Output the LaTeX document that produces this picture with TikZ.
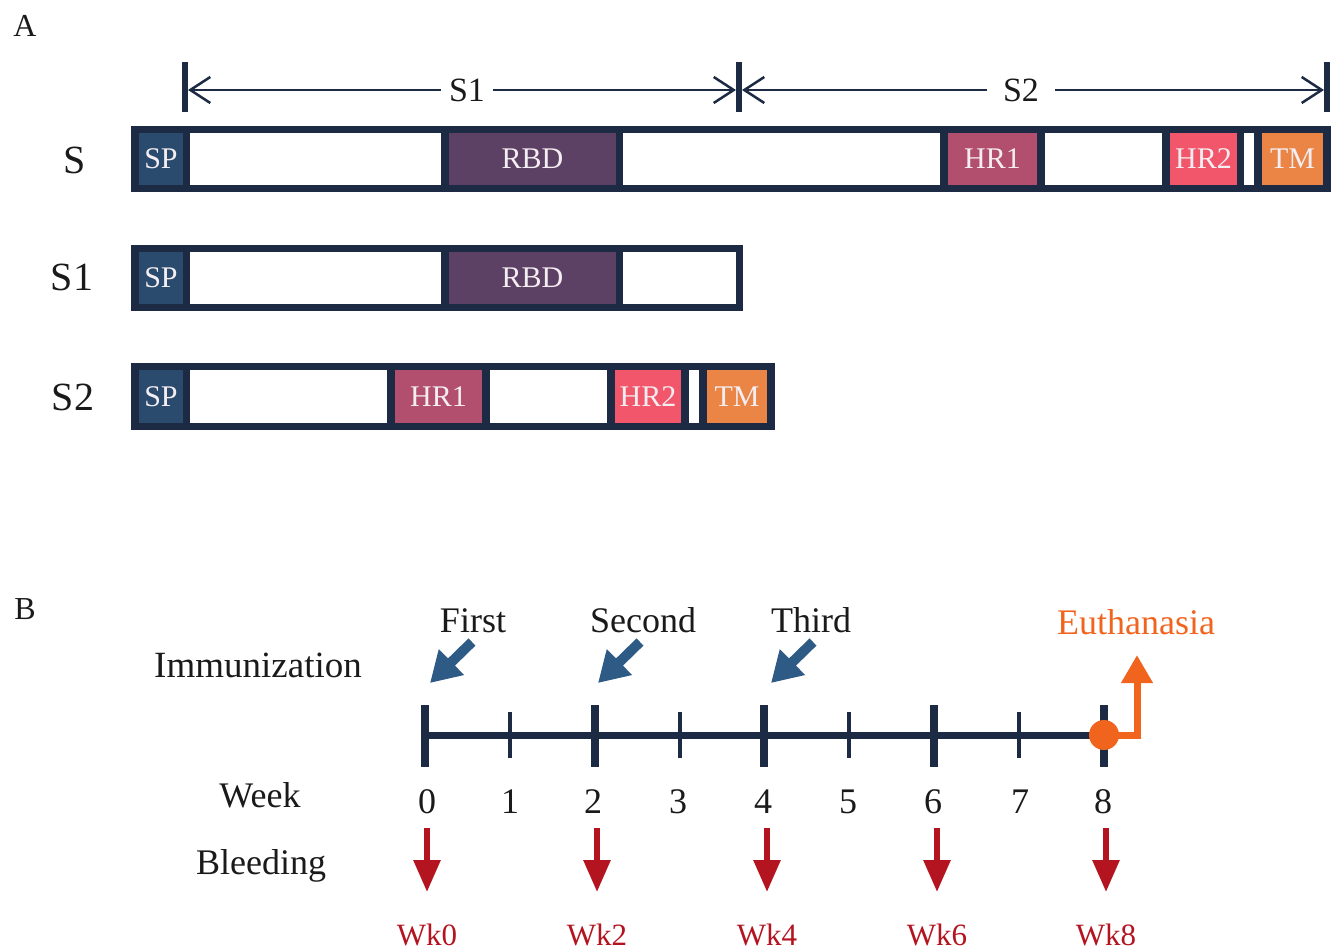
\documentclass[tikz,border=0pt]{standalone}
\usepackage{fontspec}
\setmainfont{Liberation Serif}
\usetikzlibrary{arrows.meta}
\definecolor{navy}{HTML}{1D2A44}
\definecolor{spc}{HTML}{2A4A6E}
\definecolor{rbdc}{HTML}{5D4164}
\definecolor{hronec}{HTML}{B24F6F}
\definecolor{hrtwoc}{HTML}{F2566B}
\definecolor{tmc}{HTML}{EA8546}
\definecolor{segtext}{HTML}{F4EEF2}
\definecolor{ink}{HTML}{1A1A1A}
\definecolor{bluearr}{HTML}{2E5B86}
\definecolor{orangec}{HTML}{F0641E}
\definecolor{redc}{HTML}{B3141F}
\newcommand{\segm}[7]{\node[segbox, fill=#5, minimum width=#2pt-#1pt, minimum height=#4pt-#3pt, anchor=north west] (#6) at (#1,#3) {#7};}
\begin{document}
\begin{tikzpicture}[x=1pt,y=-1pt,
  segbox/.style={draw=none, inner sep=0pt, outer sep=0pt, text=segtext, font=\fontsize{30}{32}\selectfont},
  barframe/.style={fill=navy},
  rowlabel/.style={font=\fontsize{40}{44}\selectfont, text=ink, inner sep=0pt, anchor=base},
  lbl/.style={font=\fontsize{36}{40}\selectfont, text=ink, inner sep=0pt, anchor=base},
  panel/.style={font=\fontsize{32}{36}\selectfont, text=ink, inner sep=0pt, anchor=base},
  dimlbl/.style={font=\fontsize{34}{38}\selectfont, text=ink, fill=white, inner ysep=2pt, anchor=center},
  dimtick/.style={draw=navy, line width=6pt},
  dimline/.style={draw=navy, line width=2.5pt, -{Straight Barb[length=20pt,width=26pt,line width=2.5pt]}},
  bigtick/.style={draw=navy, line width=8pt},
  smalltick/.style={draw=navy, line width=4pt},
  axis/.style={draw=navy, line width=7pt},
  immarrow/.style={draw=bluearr, line width=10pt, -{Triangle[length=30pt,width=34pt]}},
  bleedarrow/.style={draw=redc, line width=6pt, -{Triangle[length=32pt,width=26pt]}},
  eutharrow/.style={draw=orangec, line width=7pt, -{Triangle[length=28pt,width=30pt]}},
  wklbl/.style={font=\fontsize{31}{34}\selectfont, text=redc, inner sep=0pt, anchor=base}
]
\useasboundingbox (0,0) rectangle (1338,949);

% ---------- Panel A ----------
\node[panel] (pA) at (25,37) {A};

% dimension line
\coordinate (dl0) at (185,62); \coordinate (dl0b) at (185,112);
\coordinate (dl1) at (739,62); \coordinate (dl1b) at (739,112);
\coordinate (dl2) at (1327,62); \coordinate (dl2b) at (1327,112);
\draw[dimtick] (dl0) -- (dl0b);
\draw[dimtick] (dl1) -- (dl1b);
\draw[dimtick] (dl2) -- (dl2b);
\node[dimlbl, inner xsep=8pt] (ds1) at (467,90) {S1};
\node[dimlbl, inner xsep=16pt] (ds2) at (1021,90) {S2};
\coordinate (a0) at (188,90); \coordinate (a1l) at (736,90);
\coordinate (a1r) at (742,90); \coordinate (a2) at (1324,90);
\draw[dimline] (ds1.west) -- (a0);
\draw[dimline] (ds1.east) -- (a1l);
\draw[dimline] (ds2.west) -- (a1r);
\draw[dimline] (ds2.east) -- (a2);

% row labels
\node[rowlabel] (lS) at (75,174) {S};
\node[rowlabel] (lS1) at (72,291) {S1};
\node[rowlabel] (lS2) at (73,410) {S2};

% S bar
\fill[barframe] (131,126) rectangle (1331,192);
\segm{139}{183}{133}{185}{spc}{sSP}{SP}
\segm{190}{441}{133}{185}{white}{sW1}{}
\segm{449}{616}{133}{185}{rbdc}{sRBD}{RBD}
\segm{623}{940}{133}{185}{white}{sW2}{}
\segm{948}{1037}{133}{185}{hronec}{sHR1}{HR1}
\segm{1045}{1162}{133}{185}{white}{sW3}{}
\segm{1170}{1237}{133}{185}{hrtwoc}{sHR2}{HR2}
\segm{1244}{1254}{133}{185}{white}{sW4}{}
\segm{1262}{1323}{133}{185}{tmc}{sTM}{TM}

% S1 bar
\fill[barframe] (131,245) rectangle (743,311);
\segm{139}{183}{252}{304}{spc}{aSP}{SP}
\segm{190}{441}{252}{304}{white}{aW1}{}
\segm{449}{616}{252}{304}{rbdc}{aRBD}{RBD}
\segm{623}{736}{252}{304}{white}{aW2}{}

% S2 bar
\fill[barframe] (131,363) rectangle (775,430);
\segm{139}{183}{370}{423}{spc}{bSP}{SP}
\segm{190}{387}{370}{423}{white}{bW1}{}
\segm{395}{482}{370}{423}{hronec}{bHR1}{HR1}
\segm{490}{607}{370}{423}{white}{bW2}{}
\segm{615}{681}{370}{423}{hrtwoc}{bHR2}{HR2}
\segm{689}{699}{370}{423}{white}{bW3}{}
\segm{707}{767}{370}{423}{tmc}{bTM}{TM}

% ---------- Panel B ----------
\node[panel] (pB) at (25,619) {B};

\node[lbl, font=\fontsize{37}{40}\selectfont] (imm) at (258,677) {Immunization};
\node[lbl] (week) at (260,807) {Week};
\node[lbl] (bleed) at (261,874) {Bleeding};

\node[lbl] (first) at (473,632) {First};
\node[lbl] (second) at (643,632) {Second};
\node[lbl] (third) at (811,632) {Third};
\node[lbl, text=orangec] (euth) at (1136,634) {Euthanasia};

% timeline
\coordinate (t0) at (425,735);
\coordinate (t8) at (1104,735);
\draw[axis] (t0) -- (t8);
\foreach \x/\n in {425/0,595/2,764/4,934/6,1104/8}{
  \draw[bigtick] (\x,705) -- (\x,767);
}
\foreach \x in {510,680,849,1019}{
  \draw[smalltick] (\x,712) -- (\x,758);
}
\foreach \x/\n in {427/0,510/1,593/2,678/3,763/4,848/5,933/6,1020/7,1103/8}{
  \node[lbl] (wk\n) at (\x,813) {\n};
}

% immunization arrows
\coordinate (i1s) at (472,642); \coordinate (i1e) at (430,683);
\coordinate (i2s) at (640,642); \coordinate (i2e) at (598,683);
\coordinate (i3s) at (813,642); \coordinate (i3e) at (771,683);
\draw[immarrow] (i1s) -- (i1e);
\draw[immarrow] (i2s) -- (i2e);
\draw[immarrow] (i3s) -- (i3e);

% euthanasia
\node[circle, fill=orangec, minimum size=30pt, inner sep=0pt] (dot) at (t8) {};
\coordinate (ec) at (1137,735);
\coordinate (et) at (1137,655);
\draw[eutharrow] (dot.center) -- (ec) -- (et);

% bleeding arrows
\foreach \x/\n in {427/0,597/2,767/4,937/6,1106/8}{
  \coordinate (bs\n) at (\x,828);
  \coordinate (be\n) at (\x,892);
  \draw[bleedarrow] (bs\n) -- (be\n);
  \node[wklbl] (wl\n) at (\x,945) {Wk\n};
}
\end{tikzpicture}
\end{document}
